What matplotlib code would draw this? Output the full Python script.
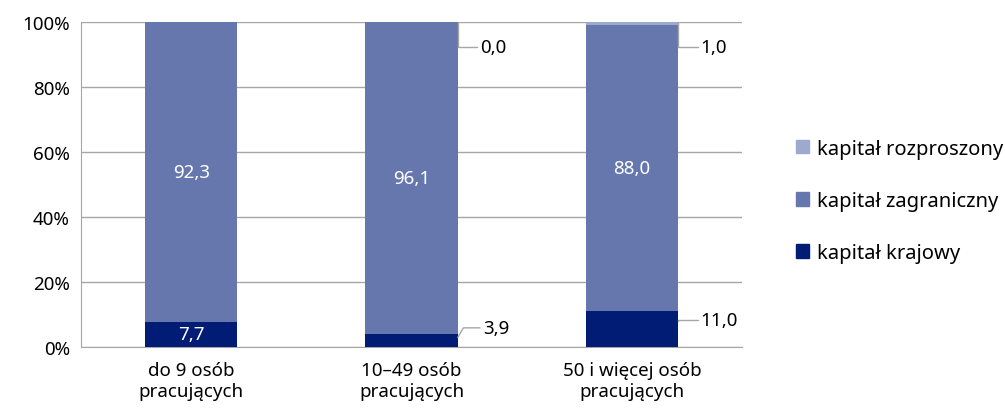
import matplotlib.pyplot as plt
import numpy as np
from matplotlib.patches import Patch

plt.rcParams['font.family'] = ['Noto Sans', 'DejaVu Sans']

categories = ["do 9 osób\npracujących", "10–49 osób\npracujących", "50 i więcej osób\npracujących"]
krajowy = [7.7, 3.9, 11.0]
zagraniczny = [92.3, 96.1, 88.0]
rozproszony = [0.0, 0.0, 1.0]

c_kraj = "#001c74"
c_zagr = "#6677ae"
c_rozp = "#9ea9cf"
grey = "#a6a6a6"
fs = 13.5

fig = plt.figure(figsize=(10.05, 4.1), dpi=100)
ax = fig.add_axes([81 / 1005, 62 / 410, 661 / 1005, 325 / 410])

x = np.arange(len(categories))
w = 0.42
k = np.array(krajowy)
z = np.array(zagraniczny)
r = np.array(rozproszony)
ax.bar(x, k, w, color=c_kraj, zorder=3)
ax.bar(x, z, w, bottom=k, color=c_zagr, zorder=3)
ax.bar(x, r, w, bottom=k + z, color=c_rozp, zorder=3)

ax.set_xlim(-0.5, 2.5)
ax.set_ylim(0, 100)
ax.set_yticks(np.arange(0, 101, 20))
ax.set_yticklabels([f"{v}%" for v in range(0, 101, 20)], fontsize=fs)
ax.set_xticks(x)
ax.set_xticklabels(categories, fontsize=fs, linespacing=1.2)
ax.tick_params(axis='both', length=0)
ax.tick_params(axis='x', pad=10)
ax.tick_params(axis='y', pad=8)
ax.grid(axis='y', color=grey, linewidth=1, zorder=0)
for s in ['top', 'right']:
    ax.spines[s].set_visible(False)
ax.spines['left'].set_color(grey)
ax.spines['bottom'].set_color(grey)

def fmt(v):
    return f"{v:.1f}".replace(".", ",")

# labels inside bars
for i in range(len(categories)):
    ax.text(x[i], k[i] + z[i] / 2, fmt(z[i]), color="white", ha="center", va="center", fontsize=fs, zorder=4)
ax.text(x[0], k[0] / 2, fmt(k[0]), color="white", ha="center", va="center", fontsize=fs, zorder=4)

# labels outside with leader lines
lp = dict(arrowstyle='-', color=grey, lw=1, shrinkA=0, shrinkB=0)
for i in [1, 2]:
    ax.annotate(fmt(r[i]), xy=(x[i] + w / 2, 100), xytext=(16, -18), textcoords='offset points',
                fontsize=fs, va='center', ha='left',
                arrowprops=dict(lp, connectionstyle="angle,angleA=0,angleB=90,rad=0", relpos=(0, 0.5)))
ax.annotate(fmt(k[1]), xy=(x[1] + w / 2, k[1] - 1), xytext=(18, 7), textcoords='offset points',
            fontsize=fs, va='center', ha='left',
            arrowprops=dict(lp, connectionstyle="angle,angleA=0,angleB=60,rad=0", relpos=(0, 0.5)))
ax.annotate(fmt(k[2]), xy=(x[2] + w / 2, k[2] - 3), xytext=(16, 1), textcoords='offset points',
            fontsize=fs, va='center', ha='left',
            arrowprops=dict(lp, connectionstyle="angle,angleA=0,angleB=90,rad=0", relpos=(0, 0.5)))

handles = [Patch(color=c_rozp), Patch(color=c_zagr), Patch(color=c_kraj)]
labels = ["kapitał rozproszony", "kapitał zagraniczny", "kapitał krajowy"]
fig.legend(handles, labels, loc='center left', bbox_to_anchor=(778 / 1005, 1 - 202 / 410),
           frameon=False, fontsize=14.5, handlelength=0.65, handleheight=0.65,
           handletextpad=0.4, labelspacing=1.6)

plt.savefig("out.png", dpi=100)
